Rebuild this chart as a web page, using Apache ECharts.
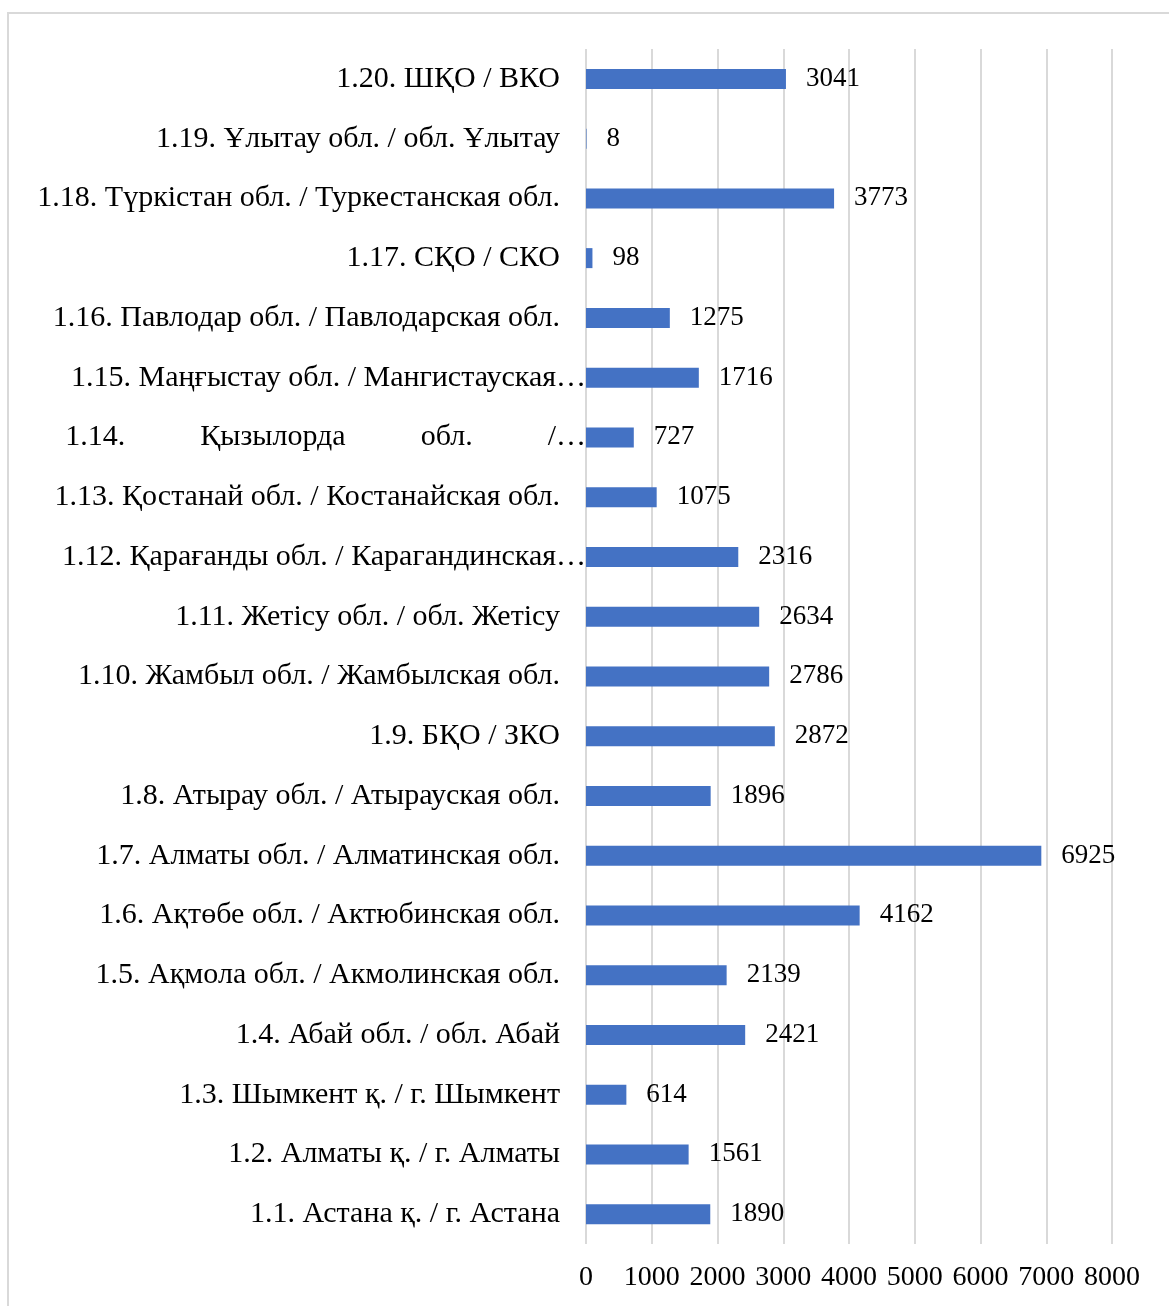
<!DOCTYPE html>
<html>
<head>
<meta charset="utf-8">
<script src="https://cdn.jsdelivr.net/npm/echarts@6/dist/echarts.min.js"></script>
<style>
  html, body { margin: 0; padding: 0; background: #fff; }
  #chart { width: 1169px; height: 1306px; }
</style>
</head>
<body>
<div id="chart"></div>
<script>
// categories, bottom to top (as shown on the picture, truncated ones kept truncated)
var regions = [
  '1.1. Астана қ. / г. Астана',
  '1.2. Алматы қ. / г. Алматы',
  '1.3. Шымкент қ. / г. Шымкент',
  '1.4. Абай обл. / обл. Абай',
  '1.5. Ақмола обл. / Акмолинская обл.',
  '1.6. Ақтөбе обл. / Актюбинская обл.',
  '1.7. Алматы обл. / Алматинская обл.',
  '1.8. Атырау обл. / Атырауская обл.',
  '1.9. БҚО / ЗКО',
  '1.10. Жамбыл обл. / Жамбылская обл.',
  '1.11. Жетісу обл. / обл. Жетісу',
  '1.12. Қарағанды обл. / Карагандинская…',
  '1.13. Қостанай обл. / Костанайская обл.',
  '1.14.          Қызылорда          обл.          /…',
  '1.15. Маңғыстау обл. / Мангистауская…',
  '1.16. Павлодар обл. / Павлодарская обл.',
  '1.17. СҚО / СКО',
  '1.18. Түркістан обл. / Туркестанская обл.',
  '1.19. Ұлытау обл. / обл. Ұлытау',
  '1.20. ШҚО / ВКО'
]
var counts = [1890, 1561, 614, 2421, 2139, 4162, 6925, 1896, 2872, 2786,
              2634, 2316, 1075, 727, 1716, 1275, 98, 3773, 8, 3041]
var xMin = 0, xMax = 8000, xStep = 1000

var serif = '"Liberation Serif", "Times New Roman", serif'
var barColor = '#4472C4'
var gridColor = '#d9d9d9'

// truncated labels run a bit further right, up to the axis
var yData = regions.map(function (name) {
  if (name.slice(-1) === '…') {
    return {value: name, textStyle: {padding: [0, -26, 0, 0]}}
  }
  return name
})

var chart = echarts.init(document.getElementById('chart'))
chart.setOption({
  animation: false,
  textStyle: {fontFamily: serif},
  graphic: [{
    type: 'rect',
    shape: {x: 8, y: 13, width: 1170, height: 1300},
    style: {fill: 'none', stroke: gridColor, lineWidth: 2},
    silent: true
  }],
  grid: {left: 586, right: 57, top: 49, height: 1195, containLabel: false},
  xAxis: {
    type: 'value',
    min: xMin,
    max: xMax,
    interval: xStep,
    axisLine: {show: false},
    axisTick: {show: false},
    axisLabel: {
      color: '#000', fontSize: 28, fontFamily: serif, margin: 20,
      formatter: function (v) { return String(v) }
    },
    splitLine: {lineStyle: {color: gridColor, width: 2}}
  },
  yAxis: {
    type: 'category',
    data: yData,
    axisLine: {show: false},
    axisTick: {show: false},
    axisLabel: {color: '#000', fontSize: 30, fontFamily: serif, margin: 26}
  },
  series: [{
    type: 'bar',
    data: counts,
    barWidth: 20,
    itemStyle: {color: barColor},
    label: {
      show: true,
      position: 'right',
      distance: 20,
      color: '#000',
      fontSize: 27,
      fontFamily: serif
    }
  }]
})
</script>
</body>
</html>
